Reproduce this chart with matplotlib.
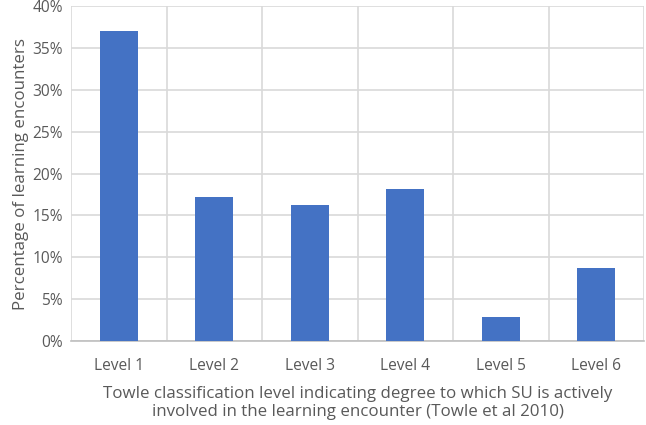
import numpy as np
import matplotlib.pyplot as plt
from matplotlib.ticker import PercentFormatter, MultipleLocator

levels = ['Level 1', 'Level 2', 'Level 3', 'Level 4', 'Level 5', 'Level 6']
percent = [37.1, 17.2, 16.2, 18.2, 2.9, 8.7]

plt.rcParams['font.family'] = ['Open Sans', 'DejaVu Sans']
text_col = '#595959'
grid_col = '#d9d9d9'

fig, ax = plt.subplots(figsize=(6.46, 4.25), dpi=100)
fig.subplots_adjust(left=0.11, right=0.997, top=0.985, bottom=0.198)

x = np.arange(len(levels))
ax.bar(x, percent, width=0.4, color='#4472c4', zorder=3)

ax.set_xlim(-0.5, len(levels) - 0.5)
ax.set_ylim(0, 40)
ax.yaxis.set_major_locator(MultipleLocator(5))
ax.yaxis.set_major_formatter(PercentFormatter(decimals=0))
ax.set_xticks(x)
ax.set_xticklabels(levels)
ax.set_xticks(np.arange(len(levels) + 1) - 0.5, minor=True)

ax.grid(axis='y', which='major', color=grid_col, lw=1.2, zorder=0)
ax.grid(axis='x', which='minor', color=grid_col, lw=1.2, zorder=0)
ax.tick_params(axis='both', which='both', length=0, colors=text_col, labelsize=11.2)
ax.tick_params(axis='x', pad=12)
ax.tick_params(axis='y', pad=6)

for s in ['top', 'right', 'left']:
    ax.spines[s].set_visible(False)
ax.spines['bottom'].set_color('#bfbfbf')
ax.spines['bottom'].set_linewidth(1.2)

ax.set_ylabel('Percentage of learning encounters', color=text_col, fontsize=12.2, labelpad=2)
ax.set_xlabel('Towle classification level indicating degree to which SU is actively\n'
              'involved in the learning encounter (Towle et al 2010)',
              color=text_col, fontsize=12.2, labelpad=9, linespacing=1.2)

fig.savefig('out.png')
